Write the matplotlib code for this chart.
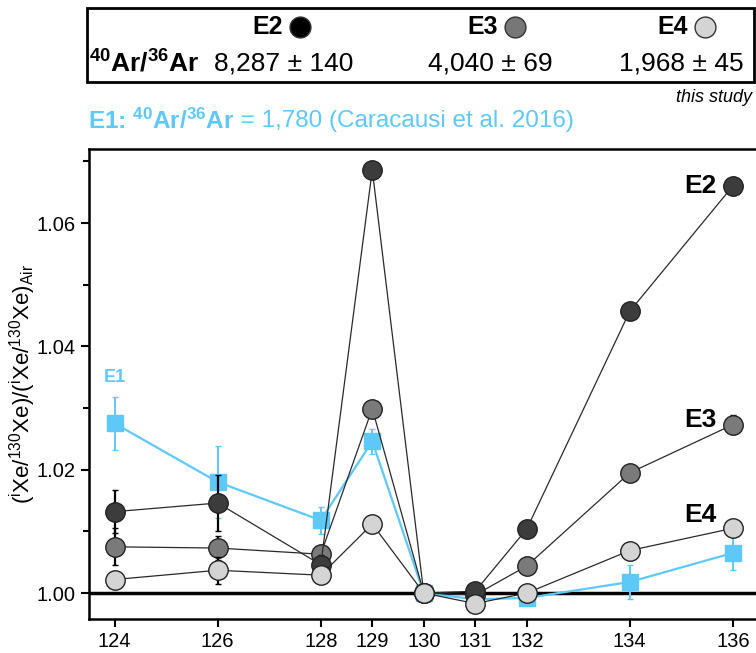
import numpy as np
import matplotlib
matplotlib.use("Agg")
import matplotlib.pyplot as plt
from matplotlib.patches import Rectangle
from matplotlib.ticker import FixedLocator, MultipleLocator

plt.rcParams["font.family"] = ["Liberation Sans", "DejaVu Sans"]
plt.rcParams["mathtext.default"] = "regular"

# Xe isotopes (mass number)
masses = [124, 126, 128, 129, 130, 131, 132, 134, 136]
mass_labels = ["124", "126", "128", "129", "130", "131", "132", "134", "136"]

# (iXe/130Xe) normalised to air
e1 = [1.0275, 1.0180, 1.0118, 1.0246, 1.0000, 0.9990, 0.9992, 1.0018, 1.0065]
e1_err = [0.0043, 0.0058, 0.0022, 0.0020, 0.0, 0.0004, 0.0006, 0.0027, 0.0028]
e2 = [1.0132, 1.0146, 1.0046, 1.0686, 1.0000, 1.0003, 1.0104, 1.0457, 1.0660]
e2_err = [0.0035, 0.0045, 0.0015, 0.0, 0.0, 0.0012, 0.0, 0.0, 0.0006]
e3 = [1.0075, 1.0073, 1.0063, 1.0299, 1.0000, 0.9997, 1.0044, 1.0195, 1.0273]
e3_err = [0.0030, 0.0020, 0.0012, 0.0, 0.0, 0.0, 0.0, 0.0, 0.0015]
e4 = [1.0022, 1.0037, 1.0029, 1.0112, 1.0000, 0.9983, 1.0000, 1.0069, 1.0105]
e4_err = [0.0, 0.0022, 0.0, 0.0, 0.0, 0.0, 0.0, 0.0, 0.0]

ar_ratios = ["8,287 ± 140", "4,040 ± 69", "1,968 ± 45"]

blue = "#5ec8f8"
fig = plt.figure(figsize=(7.56, 6.53), dpi=100)
axes = fig.add_axes([0.1177, 0.0521, 0.8823, 0.7197])

axes.axhline(1.0, color="black", linewidth=2.5, zorder=1)

# E1 (blue squares)
axes.errorbar(masses, e1, yerr=e1_err, color=blue, marker="s", markersize=11,
              linewidth=1.6, elinewidth=1.4, capsize=2.5, zorder=2)

series = [
    (e3, e3_err, "#7a7a7a", 3),
    (e2, e2_err, "#3c3c3c", 4),
    (e4, e4_err, "#d4d4d4", 5),
]
for values, errors, face, z in series:
    axes.errorbar(masses, values, yerr=errors, fmt="none", ecolor="black",
                  elinewidth=1.6, capsize=2.5, zorder=z)
    axes.plot(masses, values, color="#2a2a2a", linewidth=0.9, marker="o",
              markersize=14, markerfacecolor=face, markeredgecolor="#222222",
              markeredgewidth=1.0, zorder=z)

axes.text(124, 1.0350, "E1", color=blue, fontsize=13, fontweight="bold",
          ha="center", va="center")
axes.text(135.68, 1.0660, "E2", fontsize=19, fontweight="bold", ha="right", va="center")
axes.text(135.68, 1.0280, "E3", fontsize=19, fontweight="bold", ha="right", va="center")
axes.text(135.68, 1.0126, "E4", fontsize=19, fontweight="bold", ha="right", va="center")

axes.set_xlim(123.5, 136.45)
axes.set_ylim(0.9958, 1.0720)
axes.xaxis.set_major_locator(FixedLocator(masses))
axes.set_xticklabels(mass_labels)
axes.yaxis.set_major_locator(MultipleLocator(0.02))
axes.yaxis.set_minor_locator(MultipleLocator(0.01))
axes.yaxis.set_major_formatter(plt.FormatStrFormatter("%.2f"))
axes.tick_params(axis="both", which="major", direction="out", length=6, width=1.5,
                 labelsize=14.5)
axes.tick_params(axis="y", which="minor", direction="out", length=4, width=1.5)
for side in ["left", "bottom", "top"]:
    axes.spines[side].set_linewidth(1.8)
axes.spines["right"].set_visible(False)
axes.set_ylabel(r"($^{i}$Xe/$^{130}$Xe)/($^{i}$Xe/$^{130}$Xe)$_{Air}$",
                fontsize=16, labelpad=-1)

# header box
fig.patches.append(Rectangle((87 / 756, 1 - 82 / 653), 667 / 756, 74 / 653,
                             transform=fig.transFigure, fill=False,
                             edgecolor="black", linewidth=2))
row1 = 1 - 27 / 653
row2 = 1 - 63 / 653
header_x = [283 / 756, 498 / 756, 688 / 756]
header_names = ["E2", "E3", "E4"]
header_faces = ["black", "#777777", "#d4d4d4"]
for x, name, face in zip(header_x, header_names, header_faces):
    fig.text(x, row1, name, fontsize=18, fontweight="bold", ha="right", va="center")
    fig.add_artist(plt.Line2D([x + 17 / 756], [row1], marker="o", markersize=15,
                              markerfacecolor=face, markeredgecolor="#333333",
                              transform=fig.transFigure))
fig.text(89 / 756, row2, r"$^{40}$Ar/$^{36}$Ar", fontsize=19, fontweight="bold",
         ha="left", va="center")
fig.text(353 / 756, row2, ar_ratios[0], fontsize=19, ha="right", va="center")
fig.text(553 / 756, row2, ar_ratios[1], fontsize=19, ha="right", va="center")
fig.text(744 / 756, row2, ar_ratios[2], fontsize=19, ha="right", va="center")
fig.text(752 / 756, 1 - 97 / 653, "this study", fontsize=13, style="italic",
         ha="right", va="center")
e1_head = fig.text(88 / 756, 1 - 121 / 653, r"E1: $^{40}$Ar/$^{36}$Ar", color=blue,
                   fontsize=17.5, fontweight="bold", ha="left", va="center")
axes.annotate(" = 1,780 (Caracausi et al. 2016)", xy=(1, 0.5), xycoords=e1_head,
              color=blue, fontsize=17.5, ha="left", va="center",
              annotation_clip=False)

fig.savefig("out.png", dpi=100)
